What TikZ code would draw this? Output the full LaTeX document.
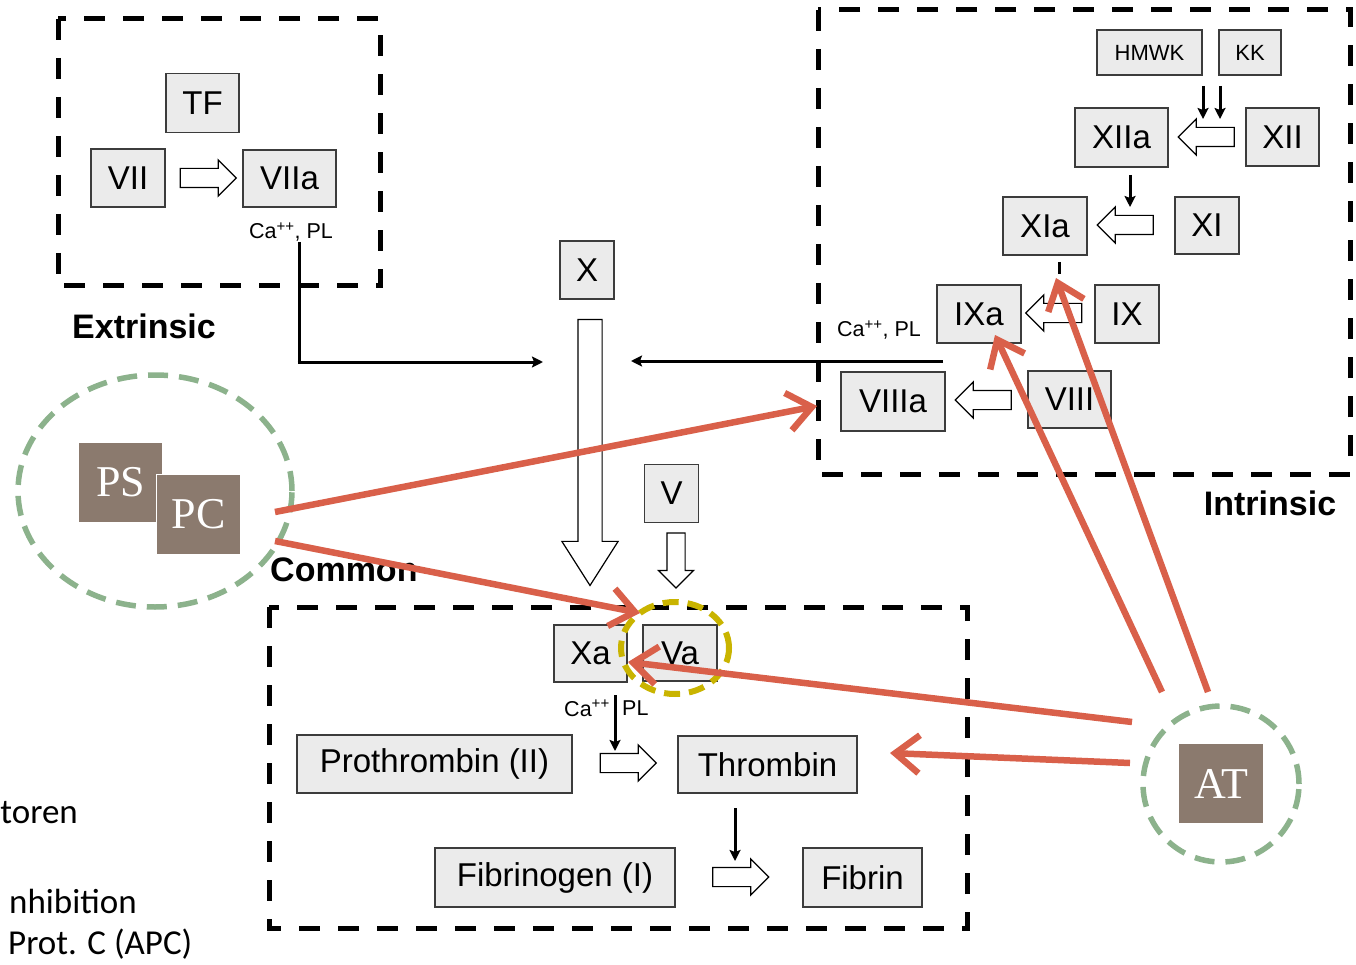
\documentclass[tikz,border=0pt]{standalone}
\usepackage{fontspec}
\setmainfont{Liberation Sans}
\newfontfamily\calib{Carlito}
\newfontfamily\serifb{Liberation Serif}
\usetikzlibrary{arrows.meta,shapes.arrows,shapes.geometric,calc}
\definecolor{boxfill}{RGB}{235,235,235}
\definecolor{boxline}{RGB}{60,60,60}
\definecolor{redc}{RGB}{217,96,74}
\definecolor{greenc}{RGB}{140,178,140}
\definecolor{yellowc}{RGB}{201,180,0}
\definecolor{brownc}{RGB}{139,122,110}
\begin{document}
\begin{tikzpicture}[x=1pt,y=-1pt,
  fbox/.style={draw=boxline,fill=boxfill,line width=1.4pt,inner sep=0pt,font=\fontsize{33}{35}\selectfont},
  sbox/.style={fbox,font=\fontsize{22}{24}\selectfont},
  region/.style={draw=black,line width=5pt,dash pattern=on 21pt off 18pt},
  hol/.style={single arrow,draw=black,fill=white,line width=1.2pt,inner xsep=0pt,inner ysep=9pt,single arrow head extend=8.5pt,minimum width=35pt,minimum height=56pt},
  vhol/.style={hol,inner ysep=0pt,shape border rotate=270},
  blk/.style={line width=3pt,-{Stealth[length=11pt,width=11pt,inset=2pt]}},
  redarr/.style={draw=redc,line width=6.5pt,-{Straight Barb[length=24pt,width=38pt]}},
  lab/.style={font=\fontsize{21.5}{23}\selectfont,inner sep=0pt},
  ttl/.style={font=\bfseries\fontsize{34}{36}\selectfont,inner sep=0pt},
  brsq/.style={fill=brownc,text=white,font=\serifb\fontsize{44}{46}\selectfont,inner sep=0pt},
  gring/.style={draw=greenc,line width=5.5pt,dash pattern=on 20pt off 11pt,inner sep=0pt},
  bltext/.style={font=\calib\fontsize{35}{38}\selectfont,inner sep=0pt},
]
\useasboundingbox (0,0) rectangle (1356,965);

% regions
\draw[region] (58,19) rectangle (380,286);
\draw[region] (818,10) rectangle (1350,474);
\draw[region] (269,607) rectangle (967,928);

% labels of regions
\node[ttl] (lext) at (144,326) {Extrinsic};
\node[ttl] (lint) at (1270,503) {Intrinsic};
\node[ttl,anchor=west] (lcom) at (270,570) {Common};

% extrinsic
\node[fbox,minimum width=73pt,minimum height=59pt] (TF) at (202.5,103) {TF};
\node[fbox,minimum width=74pt,minimum height=58pt] (VII) at (128,178) {VII};
\node[fbox,minimum width=93pt,minimum height=57pt] (VIIa) at (289.5,178.5) {VIIa};
\node[hol] (h1) at (203.5,178) {};
\node[lab] (ca1) at (291,232) {Ca\textsuperscript{++}, PL};

% middle
\node[fbox,minimum width=54pt,minimum height=58pt] (X) at (587,270) {X};
\node[fbox,minimum width=54pt,minimum height=58pt] (V) at (671.5,493.5) {V};
\node[vhol,inner xsep=11.5pt,single arrow head extend=16pt,minimum width=54pt,minimum height=266pt,single arrow tip angle=65] (h2) at (590,443) {};
\node[vhol,inner xsep=8.5pt,minimum height=55pt] (h3) at (676,556) {};

% intrinsic
\node[sbox,minimum width=105pt,minimum height=45pt] (HMWK) at (1149.5,52.5) {HMWK};
\node[sbox,minimum width=62pt,minimum height=45pt] (KK) at (1250,52.5) {KK};
\node[fbox,minimum width=93pt,minimum height=59pt] (XIIa) at (1121.5,137.5) {XIIa};
\node[fbox,minimum width=73pt,minimum height=58pt] (XII) at (1282.5,137) {XII};
\node[fbox,minimum width=84pt,minimum height=58pt] (XIa) at (1045,226) {XIa};
\node[fbox,minimum width=64pt,minimum height=57pt] (XI) at (1207,225.5) {XI};
\node[fbox,minimum width=84pt,minimum height=58pt] (IXa) at (979,314) {IXa};
\node[fbox,minimum width=64pt,minimum height=58pt] (IX) at (1127,314) {IX};
\node[fbox,minimum width=104pt,minimum height=59pt] (VIIIa) at (893,401.5) {VIIIa};
\node[fbox,minimum width=83pt,minimum height=57pt] (VIII) at (1069.5,399.5) {VIII};
\node[hol,shape border rotate=180] (h4) at (1211,137) {};
\node[hol,shape border rotate=180] (h5) at (1130,225) {};
\node[hol,shape border rotate=180] (h6) at (1058.5,313) {};
\node[hol,shape border rotate=180] (h7) at (988,400) {};
\node[lab] (ca2) at (879,330) {Ca\textsuperscript{++}, PL};

% common
\node[fbox,minimum width=73pt,minimum height=57pt] (Xa) at (590.5,653.5) {Xa};
\node[fbox,minimum width=74pt,minimum height=56pt] (Va) at (680,653) {Va};
\node[fbox,minimum width=275pt,minimum height=58pt] (PT) at (434.5,764) {Prothrombin (II)};
\node[fbox,minimum width=179pt,minimum height=57pt] (TH) at (767.5,764.5) {Thrombin};
\node[fbox,minimum width=240pt,minimum height=59pt] (FG) at (555,877.5) {Fibrinogen (I)};
\node[fbox,minimum width=119pt,minimum height=59pt] (FB) at (862.5,877.5) {Fibrin};
\node[hol] (h8) at (623.5,763) {};
\node[hol] (h9) at (736,877) {};
\node[lab,anchor=east] (ca3) at (610,708) {Ca\textsuperscript{++}};
\node[lab,anchor=west] (pl3) at (622,708) {PL};

% black connectors
\coordinate (e1) at (299,242);
\coordinate (e2) at (543,362);
\draw[line width=3pt] (e1) -- (299,362);
\draw[blk] (297.5,362) -- (e2);
\coordinate (i1) at (943,361);
\coordinate (i2) at (631,361);
\draw[blk] (i1) -- (i2);
\coordinate (k1) at (1203,86);
\coordinate (k2) at (1203,119);
\coordinate (k3) at (1220,86);
\coordinate (k4) at (1220,119);
\draw[blk] (k1) -- (k2);
\draw[blk] (k3) -- (k4);
\coordinate (x1) at (1130,175);
\coordinate (x2) at (1130,207);
\draw[blk] (x1) -- (x2);
\coordinate (t1) at (1059,262);
\coordinate (t2) at (1059,274);
\draw[line width=3pt] (t1) -- (t2);
\coordinate (c1) at (615,695);
\coordinate (c2) at (615,751);
\draw[blk] (c1) -- (c2);
\coordinate (f1) at (735,808);
\coordinate (f2) at (735,861);
\draw[blk] (f1) -- (f2);

% inhibitors
\node[gring,ellipse,minimum width=274pt,minimum height=232pt] (PSring) at (155,491) {};
\node[brsq,minimum width=83pt,minimum height=79pt] (PS) at (120.5,482.5) {PS};
\node[brsq,draw=white,line width=1.5pt,minimum width=84pt,minimum height=80pt] (PC) at (198.5,514.5) {PC};
\node[gring,circle,minimum size=156pt] (ATring) at (1221,784) {};
\node[brsq,minimum width=84pt,minimum height=79pt] (AT) at (1221,783.5) {AT};

\node[draw=yellowc,ellipse,line width=6pt,dash pattern=on 16pt off 9pt,minimum width=108pt,minimum height=92pt,inner sep=0pt] (ring) at (675,648) {};

% red inhibition arrows
\coordinate (r1s) at (275,512);
\coordinate (r1e) at (817,406);
\coordinate (r2s) at (275,541);
\coordinate (r2e) at (640,613);
\coordinate (r3s) at (1132,722);
\coordinate (r3e) at (628,662);
\coordinate (r4s) at (1130,763);
\coordinate (r4e) at (890,753);
\coordinate (r5s) at (1162,692);
\coordinate (r5e) at (995,335);
\coordinate (r6s) at (1208,692);
\coordinate (r6e) at (1056,278);
\foreach \a in {1,...,6}{\draw[redarr] (r\a s) -- (r\a e);}

% bottom-left text
\node[bltext,anchor=base east] (tx1) at (78,823) {toren};
\node[bltext,anchor=base east] (tx2) at (137,913) {nhibition};
\node[bltext,anchor=base west] (tx3) at (8,954) {Prot. C (APC)};
\end{tikzpicture}
\end{document}
